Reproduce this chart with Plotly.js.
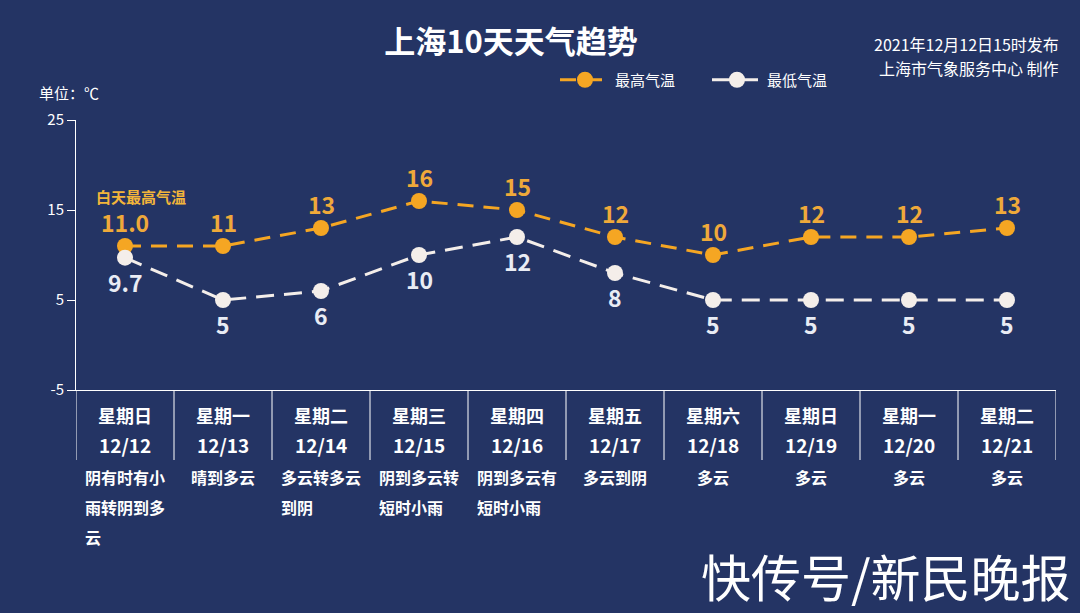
<!DOCTYPE html>
<html>
<head>
<meta charset="utf-8">
<script src="https://cdn.plot.ly/plotly-3.0.1.min.js"></script>
<style>
html,body{margin:0;padding:0;background:#243464;}
#chart{width:1080px;height:613px;}
</style>
</head>
<body>
<div id="chart"></div>
<script>
const weekdays = ["星期日","星期一","星期二","星期三","星期四","星期五","星期六","星期日","星期一","星期二"];
const dates = ["12/12","12/13","12/14","12/15","12/16","12/17","12/18","12/19","12/20","12/21"];
const weather = [["阴有时有小","雨转阴到多","云"],["晴到多云"],["多云转多云","到阴"],["阴到多云转","短时小雨"],["阴到多云有","短时小雨"],["多云到阴"],["多云"],["多云"],["多云"],["多云"]];
const highTemps = [11,11,13,16,15,12,10,12,12,13];
const lowTemps = [9.7,5,6,10,12,8,5,5,5,5];
const highLabels = ["11.0","11","13","16","15","12","10","12","12","13"];
const lowLabels = ["9.7","5","6","10","12","8","5","5","5","5"];
const yTicks = [25,15,5,-5];

const FONT = '"Noto Sans CJK SC", "Noto Sans", sans-serif';
const ORANGE = '#F5A623';
const WHITE = '#F4EEEA';
const BG = '#243464';
const xs = dates.map((d,i)=>i);

const traces = [
  {x: xs, y: highTemps, name: '最高气温', mode: 'lines+markers', type: 'scatter',
   line: {color: ORANGE, width: 3, dash: '16px,10px'},
   marker: {color: ORANGE, size: 16}},
  {x: xs, y: lowTemps, name: '最低气温', mode: 'lines+markers', type: 'scatter',
   line: {color: WHITE, width: 3, dash: '18px,10px'},
   marker: {color: WHITE, size: 16}}
];

// pixel helpers (plot area: x 76..1056, y 120..390)
const px = v => (v-76)/980;
const py = v => (390-v)/270;

const annotations = [];
const shapes = [];
const WF = 16;
xs.forEach(i => {
  annotations.push({x: i, y: highTemps[i], xref:'x', yref:'y', text: highLabels[i], showarrow:false,
    xanchor:'center', yanchor:'middle', yshift: 24,
    font:{family: FONT, size: 23, color: '#EFA93A', weight: 'bold'}});
  annotations.push({x: i, y: lowTemps[i], xref:'x', yref:'y', text: lowLabels[i], showarrow:false,
    xanchor:'center', yanchor:'middle', yshift: -24,
    font:{family: FONT, size: 23, color: '#E9ECF4', weight: 'bold'}});
  annotations.push({x: i, y: py(415), xref:'x', yref:'paper', text: weekdays[i], showarrow:false,
    xanchor:'center', yanchor:'middle',
    font:{family: FONT, size: 18, color: '#FFFFFF', weight: 'bold'}});
  annotations.push({x: i, y: py(444), xref:'x', yref:'paper', text: dates[i], showarrow:false,
    xanchor:'center', yanchor:'middle',
    font:{family: FONT, size: 19, color: '#FFFFFF', weight: 'bold'}});
  const lines = weather[i];
  const maxLen = Math.max(...lines.map(s => s.length));
  lines.forEach((s, k) => {
    annotations.push({x: i, y: py(477 + 30*k), xref:'x', yref:'paper', text: s, showarrow:false,
      xanchor:'left', yanchor:'middle', xshift: -maxLen*WF/2 - 2,
      font:{family: FONT, size: WF, color: '#FFFFFF', weight: 'bold'}});
  });
});
for (let k = 0; k <= xs.length; k++) {
  shapes.push({type:'line', xref:'x', yref:'paper', x0: k-0.5, x1: k-0.5, y0: 0, y1: py(460),
    line:{color:'#FFFFFF', width:1}});
}
annotations.push({x: px(141), y: py(196), xref:'paper', yref:'paper', xanchor:'center', yanchor:'middle',
  text:'白天最高气温', showarrow:false, font:{family: FONT, size: 15, color:'#F2B53A', weight:'bold'}});
annotations.push({x: px(37), y: py(93), xref:'paper', yref:'paper', xanchor:'left', yanchor:'middle',
  text:'单位：℃', showarrow:false, font:{family: FONT, size: 15, color:'#FFFFFF'}});
annotations.push({x: px(1061), y: py(44), xref:'paper', yref:'paper', xanchor:'right', yanchor:'middle',
  text:'2021年12月12日15时发布', showarrow:false, font:{family: FONT, size: 16, color:'#FFFFFF'}});
annotations.push({x: px(1061), y: py(68), xref:'paper', yref:'paper', xanchor:'right', yanchor:'middle',
  text:'上海市气象服务中心 制作', showarrow:false, font:{family: FONT, size: 16, color:'#FFFFFF'}});
annotations.push({x: px(1072), y: py(575), xref:'paper', yref:'paper', xanchor:'right', yanchor:'middle',
  text:'快传号/新民晚报', showarrow:false, borderpad:0, font:{family: FONT, size: 50, color:'#FFFFFF'}});

const layout = {
  width: 1080, height: 613,
  paper_bgcolor: BG, plot_bgcolor: BG,
  margin: {l: 76, r: 24, t: 120, b: 223},
  font: {family: FONT, color: '#FFFFFF'},
  title: {text: '上海10天天气趋势', x: 511/1080, xanchor:'center', y: 1-42/613, yanchor:'middle',
    font: {family: FONT, size: 31, color:'#FFFFFF', weight:'bold'}},
  showlegend: true,
  legend: {orientation:'h', x: px(555), y: py(80), xanchor:'left', yanchor:'middle',
    bgcolor:'rgba(0,0,0,0)', font:{family: FONT, size: 15, color:'#FFFFFF'},
    itemwidth: 50, entrywidth: 87, entrywidthmode: 'pixels'},
  xaxis: {range: [-0.5, 9.5], showgrid:false, zeroline:false, showticklabels:false,
    showline:true, linecolor:'#FFFFFF', linewidth:1, ticks:'', fixedrange:true},
  yaxis: {range: [-5, 25], tickvals: yTicks, ticktext: yTicks.map(String), showgrid:false, zeroline:false,
    showline:true, linecolor:'#FFFFFF', linewidth:1, ticks:'outside', ticklen:8, tickcolor:'#FFFFFF',
    tickfont:{family: FONT, size: 15, color:'#FFFFFF'}, fixedrange:true},
  annotations: annotations,
  shapes: shapes
};

Plotly.newPlot('chart', traces, layout, {displayModeBar:false, staticPlot:true});
</script>
</body>
</html>
